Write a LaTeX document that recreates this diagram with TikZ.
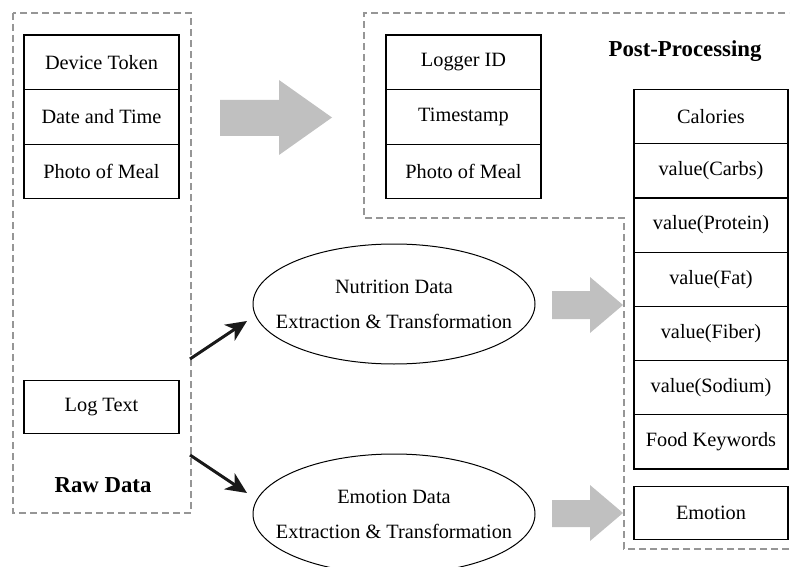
\documentclass[tikz,border=0pt]{standalone}
\usepackage{fontspec}
\setmainfont{Liberation Serif}
\usetikzlibrary{shapes.geometric,arrows.meta}
\definecolor{dashgray}{RGB}{150,150,150}
\definecolor{blockgray}{RGB}{192,192,192}
\begin{document}
\begin{tikzpicture}[x=1pt,y=-1pt,
  field/.style={draw, line width=1.2pt, minimum width=155pt, minimum height=54.6pt, inner sep=0pt, font=\fontsize{20.3}{24}\selectfont},
  groupbox/.style={draw=dashgray, line width=1.3pt, dash pattern=on 7pt off 4pt},
  blockarrow/.style={fill=blockgray, draw=none},
  proc/.style={ellipse, draw, line width=1pt, minimum width=282pt, minimum height=120pt, inner xsep=-30pt, inner ysep=-20pt, align=center, font=\fontsize{20.3}{35}\selectfont},
  flow/.style={line width=3pt, draw=black!90, -{Stealth[length=21pt,width=19pt,inset=6pt]}},
  title/.style={font=\fontsize{22.8}{26}\selectfont\bfseries}
]
\useasboundingbox (0,0) rectangle (790,567);

% dashed group outlines
\draw[groupbox] (13,13) rectangle (191,513);
\draw[groupbox] (789,549) -- (624,549) -- (624,218) -- (364,218) -- (364,13) -- (789,13);

% raw data fields
\node[field] (dev) at (101.5,62.3) {Device Token};
\node[field] (date) at (101.5,116.9) {Date and Time};
\node[field] (photo1) at (101.5,171.5) {Photo of Meal};
\node[field, minimum height=53pt] (log) at (101.5,407) {Log Text};
\node[title] (raw) at (103,485) {Raw Data};

% logger fields
\node[field] (logger) at (463.5,62.3) {Logger ID};
\node[field] (ts) at (463.5,116.9) {Timestamp};
\node[field] (photo2) at (463.5,171.5) {Photo of Meal};
\node[title] (post) at (685,51) {Post-Processing};

% right column
\node[field, minimum width=154pt, minimum height=54.2pt] (cal) at (711,116.6) {Calories};
\node[field, minimum width=154pt, minimum height=54.2pt] (carb) at (711,170.8) {value(Carbs)};
\node[field, minimum width=154pt, minimum height=54.2pt] (prot) at (711,225) {value(Protein)};
\node[field, minimum width=154pt, minimum height=54.2pt] (fat) at (711,279.2) {value(Fat)};
\node[field, minimum width=154pt, minimum height=54.2pt] (fib) at (711,333.4) {value(Fiber)};
\node[field, minimum width=154pt, minimum height=54.2pt] (sod) at (711,387.6) {value(Sodium)};
\node[field, minimum width=154pt, minimum height=54.2pt] (kw) at (711,441.8) {Food Keywords};
\node[field, minimum width=154pt, minimum height=53pt] (emo) at (711,513) {Emotion};

% processes
\node[proc] (nut) at (394,304) {Nutrition Data\\Extraction \& Transformation};
\node[proc] (emop) at (394,514) {Emotion Data\\Extraction \& Transformation};

% black arrows
\coordinate (s1) at (190,359);
\coordinate (t1) at (247,321);
\coordinate (s2) at (190,455);
\coordinate (t2) at (247,493);
\draw[flow] (s1) -- (t1);
\draw[flow] (s2) -- (t2);

% gray block arrows
\fill[blockarrow] (220,100) -- (279,100) -- (279,80) -- (332,117.5) -- (279,155) -- (279,136) -- (220,136) -- cycle;
\fill[blockarrow] (552,291) -- (590,291) -- (590,277) -- (623,305) -- (590,333) -- (590,319) -- (552,319) -- cycle;
\fill[blockarrow] (552,500) -- (590,500) -- (590,485) -- (623,513) -- (590,541) -- (590,527) -- (552,527) -- cycle;
\end{tikzpicture}
\end{document}
